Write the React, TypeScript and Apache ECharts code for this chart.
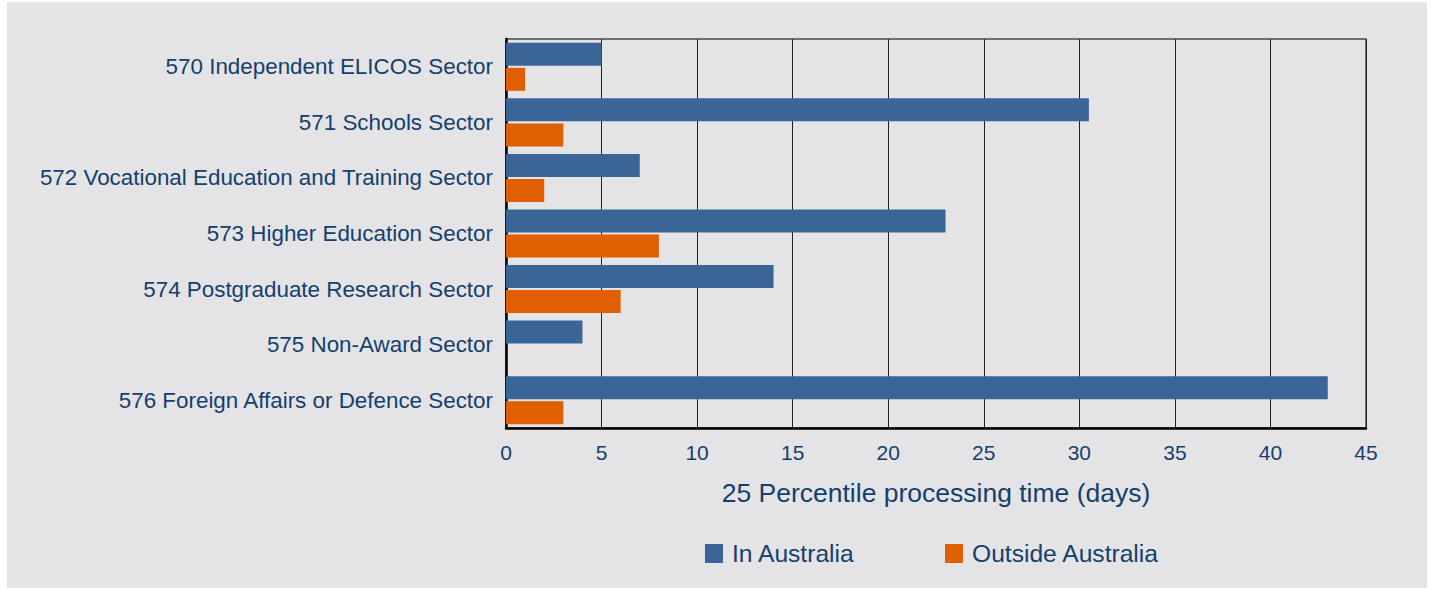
import React, { useEffect, useRef } from "react";
import * as echarts from "echarts";

const categories = [
  "570 Independent ELICOS Sector",
  "571 Schools Sector",
  "572 Vocational Education and Training Sector",
  "573 Higher Education Sector",
  "574 Postgraduate Research Sector",
  "575 Non-Award Sector",
  "576 Foreign Affairs or Defence Sector",
];
const inAustralia = [5, 30.5, 7, 23, 14, 4, 43];
const outsideAustralia = [1, 3, 2, 8, 6, 0, 3];
const seriesNames = ["In Australia", "Outside Australia"];
const axisTitle = "25 Percentile processing time (days)";

const TEXT = "#153f6d";
const FONT = "'Liberation Sans', Arial, sans-serif";

export default function App() {
  const ref = useRef<HTMLDivElement>(null);
  useEffect(() => {
    if (!ref.current) return;
    const chart = echarts.init(ref.current, undefined, { renderer: "svg" });
    chart.setOption({
      animation: false,
      backgroundColor: "transparent",
      textStyle: { fontFamily: FONT, color: TEXT },
      grid: {
        left: 506,
        top: 39,
        right: 67,
        bottom: 161,
        show: true,
        borderColor: "#4a4a4a",
        borderWidth: 1.5,
        backgroundColor: "transparent",
      },
      legend: {
        left: 700,
        top: 536,
        itemWidth: 18,
        itemHeight: 19,
        itemGap: 90,
        icon: "rect",
        data: seriesNames,
        textStyle: { fontSize: 24.6, color: TEXT, fontFamily: FONT, padding: [0, 0, 0, 4] },
      },
      xAxis: {
        type: "value",
        min: 0,
        max: 45,
        interval: 5,
        name: axisTitle,
        nameLocation: "middle",
        nameGap: 51,
        nameTextStyle: { fontSize: 26.5, color: TEXT, fontFamily: FONT },
        axisLine: { show: true, lineStyle: { color: "#000", width: 2.5 } },
        axisTick: { show: false },
        axisLabel: { fontSize: 21, color: TEXT, fontFamily: FONT, margin: 14 },
        splitLine: { show: true, lineStyle: { color: "#222", width: 1 } },
      },
      yAxis: {
        type: "category",
        data: categories,
        inverse: true,
        axisLine: { show: true, lineStyle: { color: "#000", width: 2.5 } },
        axisTick: { show: false },
        axisLabel: { fontSize: 22.4, color: TEXT, fontFamily: FONT, margin: 13 },
        splitLine: { show: false },
      },
      series: [
        {
          name: seriesNames[0],
          type: "bar",
          data: inAustralia,
          barWidth: 23,
          barGap: "9%",
          itemStyle: { color: "#3b6597" },
        },
        {
          name: seriesNames[1],
          type: "bar",
          data: outsideAustralia,
          barWidth: 23,
          barGap: "9%",
          itemStyle: { color: "#e05f00" },
        },
      ],
    });
    return () => chart.dispose();
  }, []);
  return (
    <div style={{ position: "fixed", left: 0, top: 0, width: 1433, height: 589, background: "#fff" }}>
      <div style={{ position: "absolute", left: 7, top: 2, width: 1420, height: 586, background: "#e4e4e7" }} />
      <div ref={ref} style={{ position: "absolute", left: 0, top: 0, width: 1433, height: 589 }} />
    </div>
  );
}
